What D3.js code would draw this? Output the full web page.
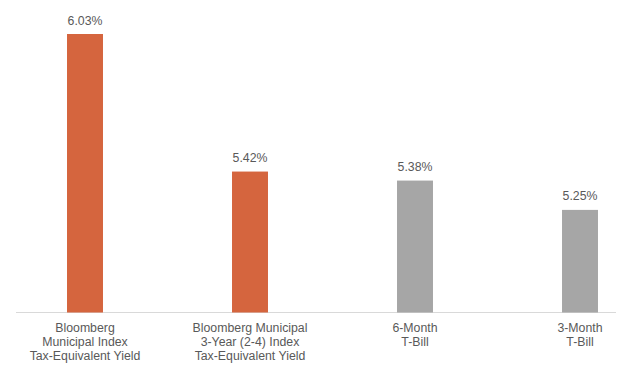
<!DOCTYPE html>
<html>
<head>
<meta charset="utf-8">
<script src="https://cdn.jsdelivr.net/npm/d3@7"></script>
<style>
html,body{margin:0;padding:0;background:#fff;}
svg{display:block;}
text{font-family:"Liberation Sans",Arial,Helvetica,sans-serif;fill:#595959;}
</style>
</head>
<body>
<svg id="chart" width="630" height="378"></svg>
<script>
const categories = [
  ["Bloomberg", "Municipal Index", "Tax-Equivalent Yield"],
  ["Bloomberg Municipal", "3-Year (2-4) Index", "Tax-Equivalent Yield"],
  ["6-Month", "T-Bill"],
  ["3-Month", "T-Bill"]
];
const values = [6.03, 5.42, 5.38, 5.25];
const valueLabels = ["6.03%", "5.42%", "5.38%", "5.25%"];
const barColors = ["#D5653E", "#D5653E", "#A6A6A6", "#A6A6A6"];

const svg = d3.select("#chart");
const baseline = 312.5;
const x = d3.scaleBand()
  .domain(d3.range(values.length))
  .range([2.5, 662.5])
  .paddingInner(0.782)
  .paddingOuter(0.391);
const y = d3.scaleLinear().domain([4.795, 6.03]).range([baseline, 34]);

// axis line
svg.append("line")
  .attr("x1", 16).attr("x2", 616)
  .attr("y1", baseline).attr("y2", baseline)
  .attr("stroke", "#D9D9D9").attr("stroke-width", 1);

svg.selectAll("rect.bar").data(values).join("rect")
  .attr("class", "bar")
  .attr("x", (d, i) => x(i))
  .attr("width", x.bandwidth())
  .attr("y", d => y(d))
  .attr("height", d => baseline - y(d))
  .attr("fill", (d, i) => barColors[i]);

svg.selectAll("text.val").data(values).join("text")
  .attr("class", "val")
  .attr("x", (d, i) => x(i) + x.bandwidth() / 2)
  .attr("y", d => y(d) - 9.5)
  .attr("text-anchor", "middle")
  .style("font-size", "12.3px")
  .text((d, i) => valueLabels[i]);

const cat = svg.selectAll("text.cat").data(categories).join("text")
  .attr("class", "cat")
  .attr("text-anchor", "middle")
  .style("font-size", "12.3px")
  .attr("transform", (d, i) => `translate(${x(i) + x.bandwidth() / 2},0)`);
cat.selectAll("tspan").data(d => d).join("tspan")
  .attr("x", 0)
  .attr("y", (d, j) => 331.7 + j * 14.3)
  .text(d => d);
</script>
</body>
</html>
